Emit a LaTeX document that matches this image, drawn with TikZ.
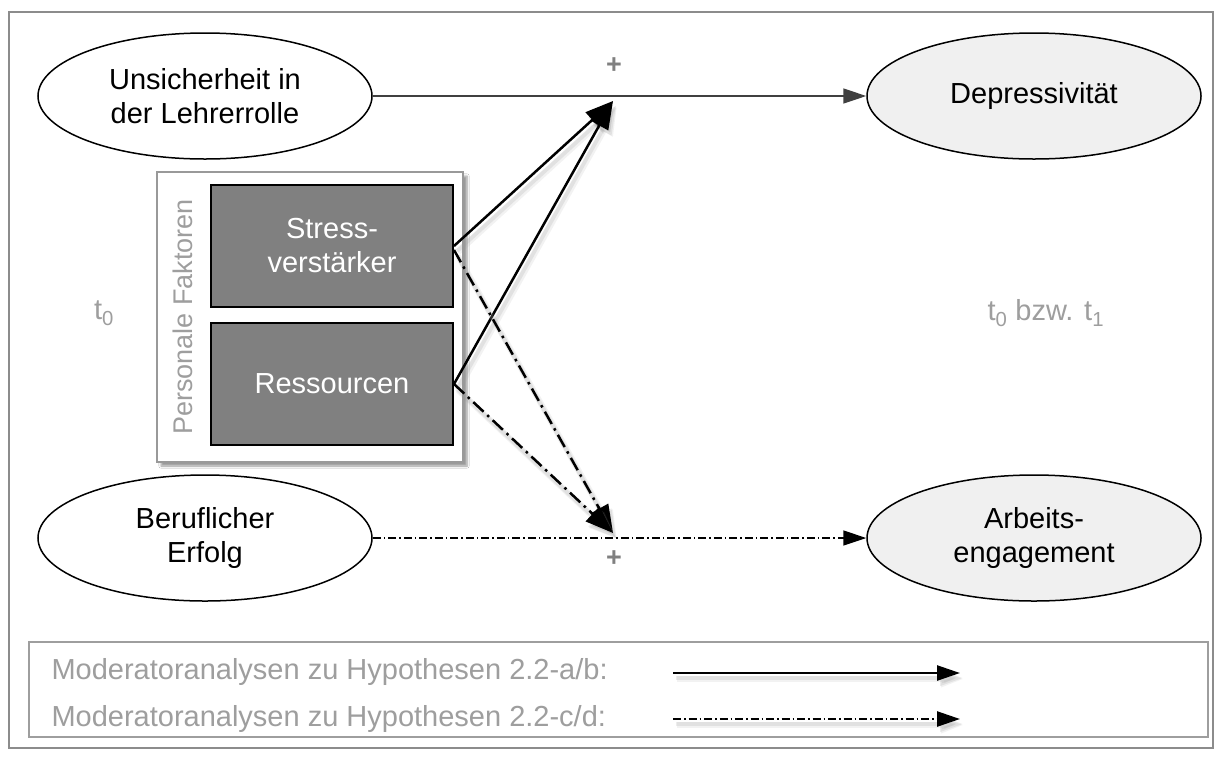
\documentclass[tikz,border=0pt]{standalone}
\usepackage{fontspec}
\setmainfont{Liberation Sans}
\usetikzlibrary{arrows.meta,shapes.geometric,shadows.blur}
\begin{document}
\begin{tikzpicture}[x=1pt,y=-1pt,
  every node/.style={font=\fontsize{29}{34}\selectfont, align=center},
  ell/.style={ellipse, draw=black, line width=1.5pt, fill=white,
    minimum width=334pt, minimum height=126pt, inner sep=1pt},
  outcome/.style={ell, fill=black!6},
  factor/.style={rectangle, draw=black, line width=2pt, fill=black!50,
    text=white, minimum width=242pt, minimum height=122pt, inner sep=0pt},
  group/.style={rectangle, draw=black!40, line width=1.5pt, fill=white,
    minimum width=306pt, minimum height=290pt,
    blur shadow={shadow xshift=4pt, shadow yshift=-4pt, shadow blur steps=6}},
  graytext/.style={text=black!38},
  plus/.style={text=black!50, font=\fontsize{27}{27}\selectfont\bfseries},
  tipbig/.style={-{Triangle[length=28pt,width=20pt]}},
  tipsmall/.style={-{Triangle[length=23pt,width=15pt]}},
  soft/.style={
    preaction={draw=black!40, opacity=0.12, line width=6pt,
      transform canvas={shift={(4,6)}}},
    preaction={draw=black!40, opacity=0.18, line width=4pt,
      transform canvas={shift={(3,5)}}}},
  dashdot/.style={dash pattern=on 14pt off 5pt on 2.5pt off 5pt},
  dashdotthin/.style={dash pattern=on 8pt off 3pt on 1.5pt off 3pt},
]
\useasboundingbox (0,0) rectangle (1222,756);
\fill[white] (0,0) rectangle (1222,756);

% outer frame
\draw[draw=black!45, line width=1.5pt] (9,12) rectangle (1213,748);

% constructs
\node[ell] (u) at (205,96) {Unsicherheit in\\der Lehrerrolle};
\node[outcome] (d) at (1034,96) {Depressivit\"at};
\node[ell] (b) at (205,538) {Beruflicher\\Erfolg};
\node[outcome] (a) at (1034,538) {Arbeits-\\engagement};

% personal factors
\node[group] (pf) at (310,317) {};
\node[graytext, rotate=90, font=\fontsize{27}{30}\selectfont] (pflabel) at (183,317) {Personale Faktoren};
\node[factor] (s) at (332,246) {Stress-\\verst\"arker};
\node[factor] (r) at (332,384) {Ressourcen};

% time labels
\node[graytext] (t0) at (104,313) {t\textsubscript{0}};
\node[graytext, anchor=west] (t1) at (984,313) {t\textsubscript{0} bzw. t\textsubscript{1}};

% moderation targets on the direct paths
\coordinate (m1) at (613,101);
\coordinate (m2) at (613,533);
\node[plus] (p1) at (614,66) {+};
\node[plus] (p2) at (614,559) {+};

% direct effects
\draw[black!75, line width=1.5pt, tipsmall] (u.east) -- (d.west);
\draw[black, line width=1.5pt, dashdotthin, tipsmall] (b.east) -- (a.west);

% moderator paths
\draw[black, line width=2.5pt, tipbig, soft] (s.east) -- (m1);
\draw[black, line width=2.5pt, tipbig, soft] (r.east) -- (m1);
\draw[black, line width=2.5pt, dashdot, tipbig, soft] ([yshift=-4pt]s.east) -- (m2);
\draw[black, line width=2.5pt, dashdot, tipbig, soft] (r.east) -- (m2);

% legend
\draw[draw=black!38, line width=1.5pt] (29,642) rectangle (1208,737);
\node[graytext, anchor=base west] (l1) at (48,679) {Moderatoranalysen zu Hypothesen 2.2-a/b:};
\node[graytext, anchor=base west] (l2) at (48,726) {Moderatoranalysen zu Hypothesen 2.2-c/d:};
\coordinate (la1) at (673,673);
\coordinate (lb1) at (960,673);
\coordinate (la2) at (673,719);
\coordinate (lb2) at (960,719);
\draw[black, line width=2.5pt, tipsmall, soft] (la1) -- (lb1);
\draw[black, line width=2.5pt, dashdotthin, tipsmall, soft] (la2) -- (lb2);
\end{tikzpicture}
\end{document}
